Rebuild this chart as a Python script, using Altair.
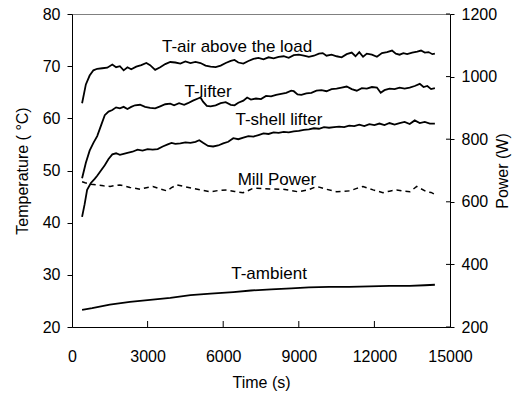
import altair as alt
import pandas as pd

# ---------------- data ----------------
air_t = [400, 550, 700, 850, 1000, 1200, 1400, 1600, 1750, 1900, 2050, 2200, 2350, 2550, 2750, 2950,
         3100, 3300, 3500, 3700, 3900, 4100, 4300, 4500, 4700, 4900, 5100, 5300, 5500, 5700, 5900,
         6100, 6300, 6450, 6600, 6800, 7000, 7200, 7400, 7600, 7800, 8000, 8200, 8400, 8600, 8800,
         9000, 9200, 9400, 9600, 9800, 9950, 10100, 10300, 10500, 10700, 10900, 11100, 11250, 11400,
         11550, 11700, 11900, 12100, 12300, 12500, 12700, 12850, 13000, 13150, 13300, 13500, 13700,
         13850, 14000, 14150, 14300, 14400]
air_v = [62.9, 66.5, 68.2, 69.2, 69.5, 69.6, 69.7, 70.3, 69.8, 70.0, 69.2, 69.8, 69.4, 69.9, 70.2, 70.6,
         70.2, 69.3, 69.8, 70.4, 70.8, 70.7, 70.5, 70.9, 70.6, 70.8, 70.6, 70.1, 69.9, 69.8, 70.1,
         70.6, 71.0, 71.2, 70.7, 70.5, 71.0, 71.4, 71.6, 71.3, 71.7, 71.5, 71.8, 71.9, 71.6, 72.1,
         72.2, 72.0, 71.8, 72.0, 72.4, 72.5, 72.0, 72.2, 71.9, 71.7, 72.3, 72.6, 71.9, 72.7,
         71.8, 72.4, 72.2, 71.8, 72.5, 72.7, 73.0, 72.4, 72.2, 72.5, 72.3, 72.6, 72.8,
         73.0, 72.6, 72.7, 72.3, 72.4]

lifter_t = [400, 550, 700, 850, 1000, 1150, 1300, 1450, 1600, 1750, 1900, 2050, 2200, 2350, 2500, 2700,
            2900, 3100, 3300, 3500, 3700, 3900, 4050, 4250, 4450, 4600, 4800, 5000, 5100, 5200, 5350,
            5500, 5700, 5900, 6100, 6300, 6450, 6600, 6800, 6950, 7100, 7300, 7500, 7700, 7900, 8100,
            8300, 8500, 8700, 8800, 8950, 9100, 9300, 9500, 9700, 9900, 10100, 10300, 10500, 10700,
            10900, 11100, 11300, 11500, 11700, 11900, 12100, 12250, 12400, 12600, 12800, 13000, 13200,
            13400, 13600, 13800, 13950, 14100, 14250, 14400]
lifter_v = [48.5, 51.5, 53.8, 55.3, 56.6, 58.6, 60.6, 61.3, 61.6, 62.1, 61.9, 62.2, 61.8, 62.2, 62.5, 62.6,
            62.2, 62.0, 61.9, 62.3, 62.7, 62.8, 62.5, 62.9, 62.6, 62.9, 63.4, 63.8, 64.0, 63.2, 62.4,
            62.3, 62.5, 62.9, 63.1, 62.6, 62.5, 63.0, 63.4, 64.0, 63.6, 63.8, 63.7, 64.3, 64.2, 64.5,
            64.7, 64.9, 65.3, 65.2, 64.6, 64.5, 64.8, 64.9, 65.3, 65.4, 65.2, 65.6, 65.7, 65.9,
            66.1, 65.6, 65.3, 65.8, 65.7, 66.0, 65.9, 64.9, 65.4, 65.7, 65.6, 65.9, 65.7,
            65.9, 66.2, 66.6, 66.0, 66.2, 65.6, 65.8]

shell_t = [400, 500, 600, 750, 900, 1000, 1150, 1300, 1450, 1600, 1750, 1900, 2050, 2200, 2400, 2600,
           2800, 3000, 3200, 3400, 3600, 3800, 3950, 4100, 4300, 4500, 4700, 4900, 5050, 5200, 5400,
           5600, 5800, 6000, 6200, 6400, 6600, 6800, 7000, 7200, 7400, 7600, 7800, 8000, 8200, 8400,
           8600, 8800, 9000, 9200, 9400, 9600, 9800, 10000, 10200, 10400, 10600, 10800, 11000, 11200,
           11400, 11600, 11800, 12000, 12200, 12400, 12600, 12800, 13000, 13200, 13400, 13600, 13800,
           14000, 14200, 14400]
shell_v = [41.1, 43.5, 46.3, 47.6, 48.4, 49.0, 50.0, 51.0, 52.2, 53.1, 53.3, 53.0, 53.2, 53.4, 53.6, 54.0,
           53.8, 54.1, 54.0, 54.1, 54.6, 55.0, 55.3, 55.1, 55.2, 55.4, 55.3, 55.5, 55.8, 55.3, 54.7,
           54.6, 54.8, 55.2, 55.5, 56.2, 56.0, 56.3, 56.6, 56.5, 56.8, 57.1, 57.0, 57.3, 57.2, 57.4,
           57.3, 57.5, 57.6, 57.8, 57.9, 58.1, 58.0, 58.3, 58.2, 58.3, 58.4, 58.3, 58.6, 58.5,
           58.8, 58.5, 58.9, 58.7, 59.0, 58.7, 59.1, 58.8, 59.1, 59.3, 58.9, 59.6, 59.1,
           59.3, 59.0, 59.0]

amb_t = [400, 800, 1500, 2300, 3100, 3900, 4700, 5500, 6400, 7100, 7900, 8700, 9400, 10200, 11000,
         11800, 12600, 13400, 14000, 14400]
amb_v = [23.3, 23.6, 24.3, 24.8, 25.2, 25.6, 26.1, 26.4, 26.7, 27.0, 27.2, 27.4, 27.6, 27.7, 27.7,
         27.8, 27.9, 27.9, 28.0, 28.1]

power_t = [400, 520, 750, 980, 1250, 1510, 1700, 1900, 2300, 2700, 2950, 3210, 3500, 3760, 3950, 4150,
           4500, 4800, 5150, 5480, 5800, 6140, 6450, 6790, 7000, 7180, 7330, 7850, 8370, 8700, 8970,
           9370, 9710, 10100, 10500, 11030, 11300, 11550, 11950, 12340, 12600, 12880, 13150, 13410,
           13680, 14080, 14250, 14370]
power_v = [664, 661, 656, 654, 651, 649, 652, 654, 646, 640, 645, 649, 641, 635, 645, 654,
           648, 643, 637, 632, 636, 638, 633, 629, 636, 643, 643, 641, 640, 636, 632,
           638, 649, 640, 632, 635, 643, 649, 638, 629, 634, 638, 634, 632,
           649, 632, 630, 625]

label_text = ["T-air above the load", "T-lifter", "T-shell lifter", "Mill Power", "T-ambient"]
label_t = [6550, 5400, 8210, 8130, 7820]
label_v = [73.7, 65.1, 59.7, 48.2, 30.2]

x_ticks = [3000, 6000, 9000, 12000]
power_ticks = [200, 400, 600, 800, 1000, 1200]

# ---------------- tables ----------------
temp_df = pd.concat([
    pd.DataFrame({"t": air_t, "T": air_v, "series": "air"}),
    pd.DataFrame({"t": lifter_t, "T": lifter_v, "series": "lifter"}),
    pd.DataFrame({"t": shell_t, "T": shell_v, "series": "shell"}),
    pd.DataFrame({"t": amb_t, "T": amb_v, "series": "ambient"}),
], ignore_index=True)
power_df = pd.DataFrame({"t": power_t, "P": power_v})
label_df = pd.DataFrame({"text": label_text, "t": label_t, "T": label_v})
xtick_df = pd.DataFrame({"t": x_ticks})
ptick_df = pd.DataFrame({"P": power_ticks})

W, H = 378, 313
FONT = "Liberation Sans"

x_scale = alt.Scale(domain=[0, 15000], nice=False)
t_scale = alt.Scale(domain=[20, 80], nice=False)
p_scale = alt.Scale(domain=[200, 1200], nice=False)

x_axis = alt.Axis(title="Time (s)", values=[0, 3000, 6000, 9000, 12000, 15000], ticks=False,
                  labelPadding=21, titlePadding=10, format="d", labelFlush=False)
t_axis = alt.Axis(title="Temperature ( °C)", values=[20, 30, 40, 50, 60, 70, 80], tickSize=5,
                  labelPadding=7, titlePadding=12, labelFlush=False)
p_axis = alt.Axis(title="Power (W)", orient="right", values=power_ticks, tickSize=4,
                  labelPadding=7, titlePadding=14, titleAngle=270, format="d", labelFlush=False)

X = alt.X("t:Q", scale=x_scale, axis=x_axis)
YT = alt.Y("T:Q", scale=t_scale, axis=t_axis)
YP = alt.Y("P:Q", scale=p_scale, axis=p_axis)

temp_lines = alt.Chart(temp_df).mark_line(color="black", strokeWidth=1.8).encode(
    x=X, y=YT, detail="series:N",
)
labels = alt.Chart(label_df).mark_text(font=FONT, fontSize=17, color="black",
                                       align="center", baseline="middle").encode(
    x=X, y=YT, text="text:N",
)
xticks = alt.Chart(xtick_df).mark_rule(color="black", strokeWidth=1).encode(
    x=X, y=alt.value(H - 6), y2=alt.value(H),
)
temp_layer = alt.layer(temp_lines, labels, xticks)

power_line = alt.Chart(power_df).mark_line(color="black", strokeWidth=1.5,
                                           strokeDash=[5, 4]).encode(
    x=X, y=YP,
)
pticks = alt.Chart(ptick_df).mark_rule(color="black", strokeWidth=1).encode(
    y=YP, x=alt.value(W - 4), x2=alt.value(W),
)
power_layer = alt.layer(power_line, pticks)

chart = alt.layer(temp_layer, power_layer).resolve_scale(y="independent").properties(
    width=W, height=H,
    autosize=alt.AutoSizeParams(type="none"),
    padding={"left": 72, "top": 14, "right": 79, "bottom": 67},
    background="white",
).configure_view(stroke="#808080", strokeWidth=1).configure_axis(
    domainColor="black", tickColor="black", domainWidth=1, tickWidth=1, grid=False,
    labelFont=FONT, labelFontSize=16, labelColor="black",
    titleFont=FONT, titleFontSize=16, titleFontWeight="normal", titleColor="black",
)

chart.save("out.html", embed_options={"renderer": "svg", "actions": False})
